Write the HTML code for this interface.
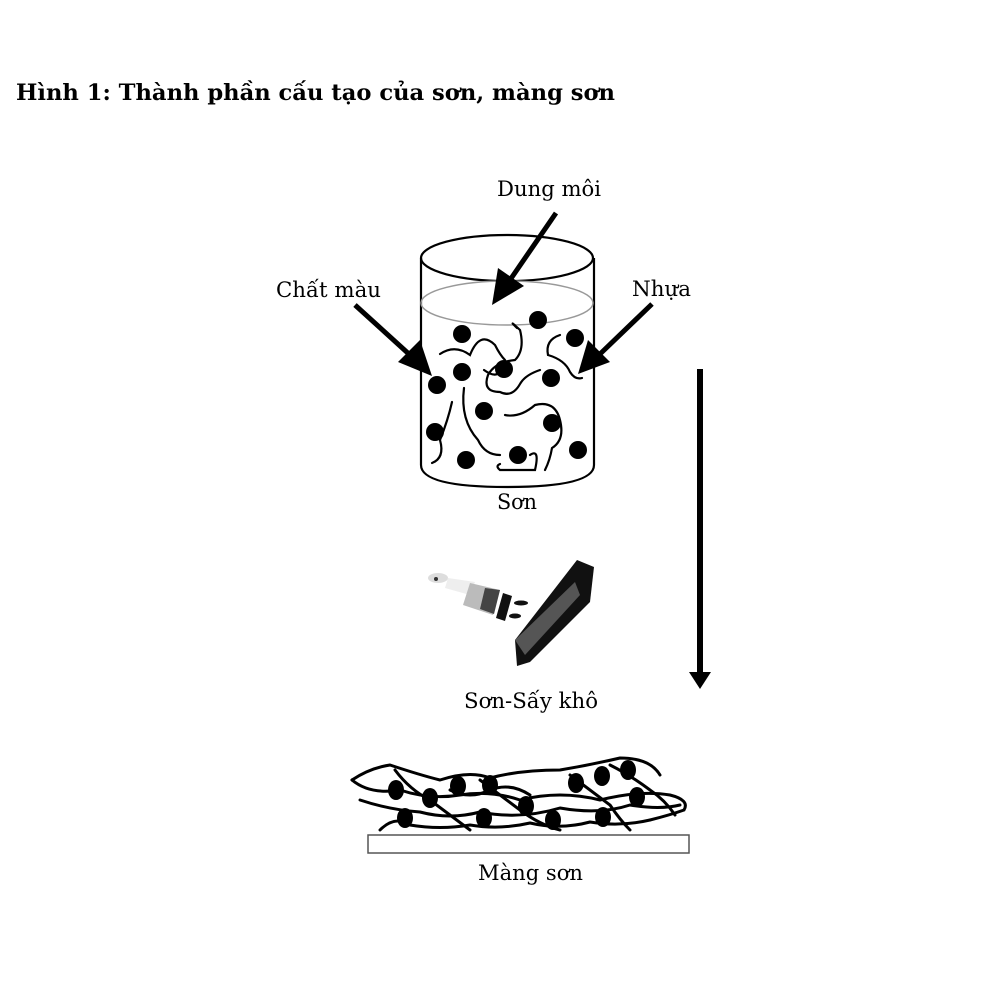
<!DOCTYPE html>
<html><head><meta charset="utf-8"><style>
html,body{margin:0;padding:0;background:#fff;width:1000px;height:1000px;overflow:hidden}
svg{display:block}
text{font-family:"DejaVu Serif","Liberation Serif",serif;fill:#000}
</style></head><body>
<svg width="1000" height="1000" viewBox="0 0 1000 1000" xmlns="http://www.w3.org/2000/svg">
<text x="16" y="100" font-size="22" font-weight="bold" textLength="599" lengthAdjust="spacingAndGlyphs">Hình 1: Thành phần cấu tạo của sơn, màng sơn</text>

<!-- cylinder -->
<g fill="none" stroke="#000" stroke-width="2.2">
<ellipse cx="507" cy="258" rx="86" ry="23"/>
<line x1="421" y1="258" x2="421" y2="465"/>
<line x1="594" y1="258" x2="594" y2="465"/>
<path d="M421 465 Q421 487 507 487 Q594 487 594 465"/>
</g>
<ellipse cx="507" cy="303" rx="86" ry="22" fill="none" stroke="#999" stroke-width="1.5"/>
<!-- strands -->
<g fill="none" stroke="#000" stroke-width="2.2" stroke-linecap="round">
<path d="M440 354 Q455 344 470 355 Q480 330 495 345 Q500 355 505 360"/>
<path d="M517 328 Q507 318 520 330 Q525 350 515 360 Q495 362 488 375 Q482 392 500 392 Q512 398 520 384 Q525 375 540 370"/>
<path d="M560 335 Q545 340 548 355 Q565 360 570 372 Q575 380 582 378"/>
<path d="M464 388 Q460 420 478 440 Q485 455 500 455"/>
<path d="M452 402 Q448 420 440 440 Q445 458 432 463"/>
<path d="M505 415 Q520 418 535 405 Q555 400 560 420 Q565 440 552 448 Q550 460 545 470"/>
<path d="M530 455 Q540 448 535 470 Q520 470 500 470 Q495 466 500 464"/>
<path d="M484 370 Q495 378 500 372"/>
</g>
<g fill="#000">
<circle cx="462" cy="334" r="9"/><circle cx="538" cy="320" r="9"/><circle cx="575" cy="338" r="9"/>
<circle cx="462" cy="372" r="9"/><circle cx="504" cy="369" r="9"/><circle cx="551" cy="378" r="9"/>
<circle cx="437" cy="385" r="9"/><circle cx="484" cy="411" r="9"/><circle cx="552" cy="423" r="9"/>
<circle cx="435" cy="432" r="9"/><circle cx="578" cy="450" r="9"/><circle cx="466" cy="460" r="9"/>
<circle cx="518" cy="455" r="9"/>
</g>

<!-- label arrows -->
<g stroke="#000" stroke-width="5" fill="#000">
<line x1="556" y1="213" x2="510" y2="280"/>
<line x1="355" y1="305" x2="410" y2="355"/>
<line x1="652" y1="304" x2="600" y2="354"/>
</g>
<polygon points="492,305 498,268 524,286" fill="#000"/>
<polygon points="432,376 398,362 420,340" fill="#000"/>
<polygon points="578,374 588,340 610,362" fill="#000"/>

<text x="497" y="196" font-size="21" textLength="104" lengthAdjust="spacingAndGlyphs">Dung môi</text>
<text x="276" y="297" font-size="21" textLength="105" lengthAdjust="spacingAndGlyphs">Chất màu</text>
<text x="632" y="296" font-size="21" textLength="59" lengthAdjust="spacingAndGlyphs">Nhựa</text>
<text x="497" y="509" font-size="21" textLength="40" lengthAdjust="spacingAndGlyphs">Sơn</text>

<!-- big arrow -->
<line x1="700" y1="369" x2="700" y2="676" stroke="#000" stroke-width="6"/>
<polygon points="689,672 711,672 700,689" fill="#000"/>

<!-- brush -->
<g>
<ellipse cx="438" cy="578" rx="10" ry="5" fill="#ddd"/>
<circle cx="436" cy="579" r="2" fill="#333"/>
<polygon points="448,578 475,582 470,595 445,588" fill="#eee"/>
<polygon points="470,583 500,590 493,615 463,605" fill="#bbb"/>
<polygon points="485,588 500,590 494,614 480,609" fill="#444"/>
<polygon points="503,593 512,596 505,621 496,618" fill="#111"/>
<ellipse cx="521" cy="603" rx="7" ry="2.5" fill="#111"/>
<ellipse cx="515" cy="616" rx="6" ry="2.5" fill="#111"/>
<polygon points="577,560 594,567 590,602 530,662 517,666 515,640" fill="#111"/>
<polygon points="515,640 575,582 580,595 525,655" fill="#555"/>
</g>
<text x="464" y="708" font-size="21" textLength="134" lengthAdjust="spacingAndGlyphs">Sơn-Sấy khô</text>

<!-- film -->
<rect x="368" y="835" width="321" height="18" fill="#fff" stroke="#555" stroke-width="1.5"/>
<g fill="none" stroke="#000" stroke-width="3" stroke-linecap="round">
<path d="M352 780 Q370 768 390 765 Q420 775 440 780 Q470 770 490 778 Q520 770 560 770 Q590 765 620 758 Q650 758 660 775"/>
<path d="M352 780 Q370 795 400 790 Q430 800 460 795 Q490 790 520 800 Q560 790 600 800 Q640 790 670 795 Q690 800 684 810 Q670 815 650 820"/>
<path d="M360 800 Q390 810 420 812 Q450 820 480 812 Q520 820 560 808 Q600 815 630 805 Q660 810 680 805"/>
<path d="M380 830 Q395 815 410 825 Q440 830 470 825 Q500 830 530 823 Q560 830 590 822 Q620 827 650 820"/>
<path d="M395 770 Q410 790 430 800 Q450 815 470 830"/>
<path d="M480 780 Q500 795 520 810 Q540 825 560 830"/>
<path d="M570 775 Q590 790 610 805 Q620 820 630 830"/>
<path d="M610 765 Q630 775 650 790 Q665 800 675 815"/>
<path d="M450 790 Q470 800 490 790 Q510 782 530 795"/>
</g>
<g fill="#000">
<ellipse cx="396" cy="790" rx="8" ry="10"/><ellipse cx="430" cy="798" rx="8" ry="10"/>
<ellipse cx="405" cy="818" rx="8" ry="10"/><ellipse cx="458" cy="786" rx="8" ry="10"/>
<ellipse cx="490" cy="785" rx="8" ry="10"/><ellipse cx="484" cy="818" rx="8" ry="10"/>
<ellipse cx="526" cy="806" rx="8" ry="10"/><ellipse cx="553" cy="820" rx="8" ry="10"/>
<ellipse cx="576" cy="783" rx="8" ry="10"/><ellipse cx="602" cy="776" rx="8" ry="10"/>
<ellipse cx="628" cy="770" rx="8" ry="10"/><ellipse cx="637" cy="797" rx="8" ry="10"/>
<ellipse cx="603" cy="817" rx="8" ry="10"/>
</g>
<text x="478" y="880" font-size="21" textLength="105" lengthAdjust="spacingAndGlyphs">Màng sơn</text>
</svg>
</body></html>
